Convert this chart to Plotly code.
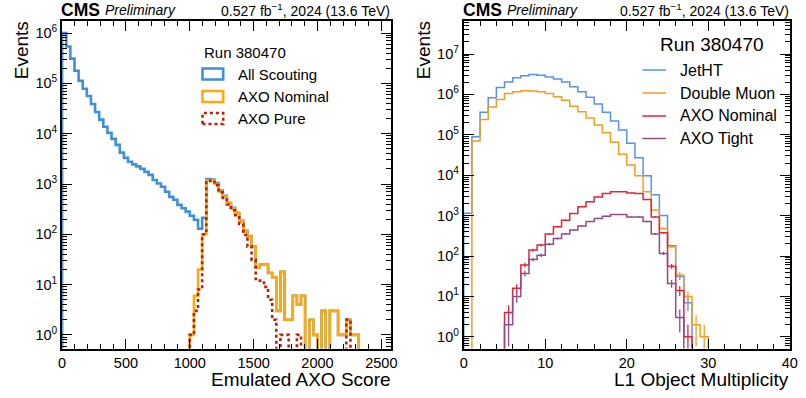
import numpy as np
import plotly.graph_objects as go

W, H = 806, 398

# ---------------- Left panel data: Emulated AXO Score ----------------
score_bin_width = 1000.0 / 31
all_scouting = [1.0e6, 5.4e5, 3.1e5, 1.78e5, 1.12e5, 7.8e4, 5.6e4, 3.9e4, 2.7e4, 1.9e4,
                1.37e4, 1.04e4, 7900, 6000, 4200, 3300, 2760, 2460, 2240, 2000,
                1740, 1520, 1200, 1020, 880, 700, 555, 485, 385, 330,
                283, 233, 195, 129, 213, 1250, 1230, 1050, 740, 580,
                425, 335, 268, 185, 118, 92, 58, 22, 25, 25,
                17, 14, 3, 18, 2, 2, 6, 4, 6, 0,
                2, 1, 0, 3, 0, 3, 3, 1, 1, 2,
                1, 1, 0, 0, 0, 0, 0, 0, 0, 0]
axo_nominal = [0] * 31 + [1, 6, 20, 100, 1180, 1200, 1000, 710, 565,
                          415, 330, 263, 180, 113, 90, 57, 22, 25, 25,
                          17, 14, 3, 18, 2, 2, 6, 4, 6, 0,
                          2, 1, 0, 3, 0, 3, 3, 1, 1, 2,
                          1, 1, 0, 0, 0, 0, 0, 0, 0, 0]
axo_pure = [0] * 31 + [1, 3, 8, 100, 1150, 1170, 950, 680, 530,
                       390, 300, 240, 160, 97, 57, 31, 13, 12, 9,
                       5, 2, 0, 1, 1, 0, 0, 1, 0, 0,
                       0, 0, 0, 0, 0, 0, 0, 0, 0, 2,
                       0, 0, 0, 0, 0, 0, 0, 0, 0, 0]
score_ticks = [0, 500, 1000, 1500, 2000, 2500]
left_decades = [0, 1, 2, 3, 4, 5, 6]

# ---------------- Right panel data: L1 Object Multiplicity ----------------
mult_edges = list(range(0, 32))
jetht = [1150, 8.9e4, 3.6e5, 8.3e5, 1.49e6, 2.04e6, 2.57e6, 2.9e6, 3.1e6, 3.0e6,
         2.7e6, 2.4e6, 2.04e6, 1.55e6, 1.16e6, 8.5e5, 5.8e5, 3.6e5, 2.2e5, 1.32e5,
         6.2e4, 2.7e4, 9700, 3300, 1000, 179, 31, 7, 0, 0, 0]
double_muon = [0, 7.0e4, 2.4e5, 4.9e5, 7.5e5, 1.06e6, 1.16e6, 1.24e6, 1.22e6, 1.16e6,
               1.06e6, 8.7e5, 7.2e5, 5.1e5, 3.7e5, 2.6e5, 1.74e5, 1.12e5, 6.5e4, 3.3e4,
               1.78e4, 9700, 3900, 1370, 480, 170, 34, 10, 2, 1, 0]
axo_nominal_mult = [0, 0, 0, 0, 0, 4, 16, 60, 140, 186,
                    350, 530, 770, 1130, 1660, 2200, 2900, 3550, 3900, 3900,
                    3650, 3550, 2500, 930, 375, 56, 14, 1, 0, 0, 0]
axo_tight = [0, 0, 0, 0, 0, 2, 10, 37, 82, 105,
             196, 270, 350, 440, 550, 710, 850, 970, 1070, 1070,
             930, 930, 710, 350, 116, 21, 3, 0, 0, 0, 0]
mult_ticks = [0, 10, 20, 30, 40]
right_decades = [0, 1, 2, 3, 4, 5, 6, 7]

FONT = "Liberation Sans, Arial, Helvetica, sans-serif"
FLOOR = 1e-3


def step_xy(edges, vals):
    v = np.asarray(vals, dtype=float)
    nz = np.nonzero(v > 0)[0]
    last = nz[-1] + 1 if len(nz) else len(v)
    first = nz[0] if len(nz) else 0
    e = np.asarray(edges, dtype=float)[first:last + 1]
    v = v[first:last]
    v = np.where(v > 0, v, FLOOR)
    x = [e[0]] + list(e[:-1]) + [e[-1]]
    y = [FLOOR] + list(v) + [FLOOR]
    return x, y


def log_ticks(decades):
    vals = [10.0 ** d for d in decades]
    txt = ["10<sup>%d</sup>" % d for d in decades]
    minor = [m * 10.0 ** d for d in range(decades[0] - 1, decades[-1] + 1)
             for m in range(2, 10)]
    return vals, txt, minor


fig = go.Figure()

score_edges = np.arange(len(all_scouting) + 1) * score_bin_width
left_series = [(all_scouting, "#3f90da", "solid"),
               (axo_nominal, "#ffa90e", "solid"),
               (axo_pure, "#bd1f01", "dot")]
for vals, col, dash in left_series:
    x, y = step_xy(score_edges, vals)
    fig.add_trace(go.Scatter(x=x, y=y, mode="lines", line_shape="hv",
                             line=dict(color=col, width=2.6, dash=dash),
                             showlegend=False, xaxis="x", yaxis="y",
                             hoverinfo="skip"))

right_series = [(jetht, "#5790fc"), (double_muon, "#f89c20"),
                (axo_nominal_mult, "#e42536"), (axo_tight, "#964a8b")]
centers = (np.asarray(mult_edges[:-1]) + np.asarray(mult_edges[1:])) / 2.0
for vals, col in right_series:
    x, y = step_xy(mult_edges, vals)
    fig.add_trace(go.Scatter(x=x, y=y, mode="lines", line_shape="hv",
                             line=dict(color=col, width=1.5),
                             showlegend=False, xaxis="x2", yaxis="y2",
                             hoverinfo="skip"))
    v = np.asarray(vals, dtype=float)
    m = v > 0
    fig.add_trace(go.Scatter(x=centers[m], y=v[m], mode="markers",
                             marker=dict(size=1, color=col, opacity=0),
                             error_y=dict(type="data", array=np.sqrt(v[m]),
                                          color=col, thickness=1.3, width=0),
                             showlegend=False, xaxis="x2", yaxis="y2",
                             hoverinfo="skip"))


def px(x):
    return x / W


def py(y):
    return 1 - y / H


frame_top, frame_bot = 20.5, 348.5
common_axis = dict(showline=True, linewidth=2, linecolor="black", mirror="allticks",
                   ticks="inside", ticklen=10, tickwidth=1.2, tickcolor="black",
                   showgrid=False, zeroline=False,
                   tickfont=dict(family=FONT, size=14.5, color="black"))

lv, lt, lm = log_ticks(left_decades)
rv, rt, rm = log_ticks(right_decades)

fig.update_layout(
    width=W, height=H, margin=dict(l=0, r=0, t=0, b=0), autosize=False,
    paper_bgcolor="white", plot_bgcolor="white", showlegend=False,
    xaxis=dict(domain=[px(59), px(393)], range=[0, 2577], anchor="y",
               tickvals=score_ticks,
               minor=dict(ticks="inside", ticklen=5, tickwidth=1, dtick=100,
                          tickcolor="black", showgrid=False),
               **common_axis),
    yaxis=dict(domain=[py(frame_bot), py(frame_top)], type="log",
               range=[-0.27, 6.25], anchor="x", tickvals=lv, ticktext=lt,
               minor=dict(ticks="inside", ticklen=5, tickwidth=1, tickvals=lm,
                          tickcolor="black", showgrid=False),
               **common_axis),
    xaxis2=dict(domain=[px(466.7), px(797.7)], range=[0, 40], anchor="y2",
                tickvals=mult_ticks,
                minor=dict(ticks="inside", ticklen=5, tickwidth=1, dtick=2,
                           tickcolor="black", showgrid=False),
                **common_axis),
    yaxis2=dict(domain=[py(frame_bot), py(frame_top)], type="log",
                range=[-0.29, 7.83], anchor="x2", tickvals=rv, ticktext=rt,
                minor=dict(ticks="inside", ticklen=5, tickwidth=1, tickvals=rm,
                           tickcolor="black", showgrid=False),
                **common_axis),
)

ann = []


def text(x, y, s, size, xanchor="left", yanchor="middle", angle=0):
    ann.append(dict(x=px(x), y=py(y), xref="paper", yref="paper", text=s,
                    showarrow=False, xanchor=xanchor, yanchor=yanchor,
                    textangle=angle, font=dict(family=FONT, size=size, color="black")))


# headers
for x0, x1 in [(56, 394), (464, 799)]:
    text(x0, 9.5, "<b>CMS</b>", 17.5)
    text(x0 + 45, 10, "<i>Preliminary</i>", 14)
    text(x1, 10, "0.527 fb<sup>−1</sup>, 2024 (13.6 TeV)", 14, xanchor="right")

# axis titles
text(17.5, 19, "Events", 19, xanchor="center", yanchor="top", angle=-90)
text(425.5, 19, "Events", 19, xanchor="center", yanchor="top", angle=-90)
text(395, 379, "Emulated AXO Score", 19, xanchor="right")
text(799, 379, "L1 Object Multiplicity", 19, xanchor="right")

# left legend
text(201, 53, "Run 380470", 15)
shapes = []
left_leg = [("All Scouting", "#3f90da", "solid", 74),
            ("AXO Nominal", "#ffa90e", "solid", 96.5),
            ("AXO Pure", "#bd1f01", "dot", 118.5)]
for label, col, dash, yc in left_leg:
    shapes.append(dict(type="rect", xref="paper", yref="paper",
                       x0=px(201.5), x1=px(222.5), y0=py(yc + 5.5), y1=py(yc - 5.5),
                       line=dict(color=col, width=2.6, dash=dash),
                       fillcolor="rgba(0,0,0,0)"))
    text(235, yc, label, 15)

# right legend
text(664, 45, "Run 380470", 19)
right_leg = [("JetHT", "#5790fc", 70), ("Double Muon", "#f89c20", 93),
             ("AXO Nominal", "#e42536", 116), ("AXO Tight", "#964a8b", 138.5)]
for label, col, yc in right_leg:
    shapes.append(dict(type="line", xref="paper", yref="paper",
                       x0=px(648), x1=px(672), y0=py(yc), y1=py(yc),
                       line=dict(color=col, width=1.5)))
    text(684, yc, label, 16)

fig.update_layout(annotations=ann, shapes=shapes)
fig.write_html("out.html")
